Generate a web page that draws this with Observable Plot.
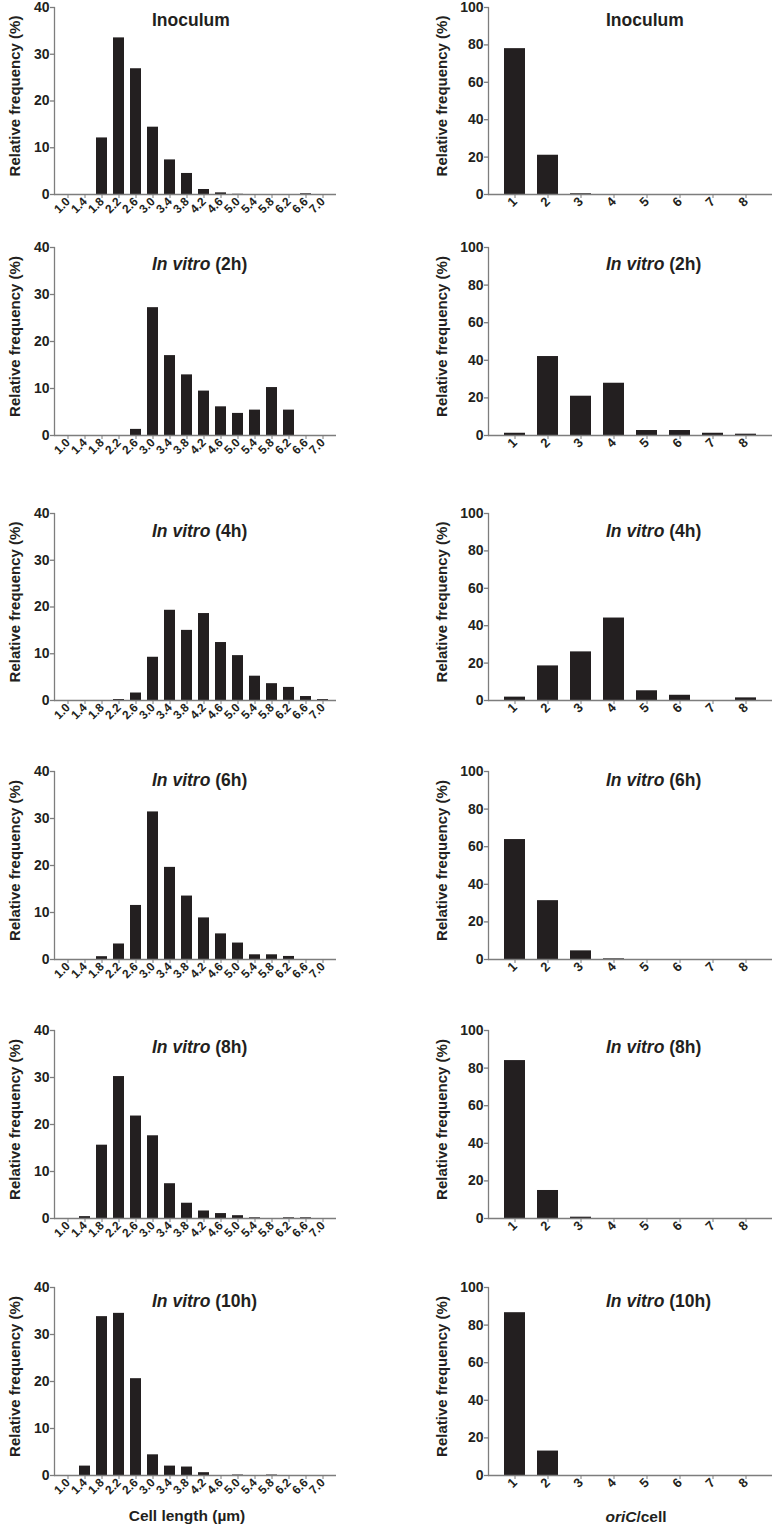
<!DOCTYPE html>
<html><head><meta charset="utf-8">
<script src="https://cdn.jsdelivr.net/npm/d3@7"></script>
<script src="https://cdn.jsdelivr.net/npm/@observablehq/plot@0.6"></script>
<style>
body{margin:0;background:#fff;font-family:"Liberation Sans",Arial,sans-serif;}
#wrap{position:relative;width:772px;height:1526px;overflow:hidden;}
.panel{position:absolute;}
.title{position:absolute;font-weight:bold;font-size:17.5px;color:#231f20;white-space:nowrap;line-height:1;}
.xlab{position:absolute;font-weight:bold;font-size:15.5px;color:#231f20;white-space:nowrap;line-height:1;transform:translateX(-50%);}
svg.panel g[aria-label="y-axis tick label"]{font-size:14px;font-weight:bold;}
svg.lenpanel g[aria-label="x-axis tick label"]{font-size:12px;font-weight:bold;}
svg.oripanel g[aria-label="x-axis tick label"]{font-size:13px;font-weight:bold;}
svg.panel g[aria-label="text"]{font-size:15px;font-weight:bold;}
</style></head><body><div id="wrap"></div><script>
// ---- data ----
const lengthBins = ["1.0","1.4","1.8","2.2","2.6","3.0","3.4","3.8","4.2","4.6","5.0","5.4","5.8","6.2","6.6","7.0"];
const oriBins = ["1","2","3","4","5","6","7","8"];
const titleMain = ["Inoculum","In vitro","In vitro","In vitro","In vitro","In vitro"];
const titleSuffix = [""," (2h)"," (4h)"," (6h)"," (8h)"," (10h)"];
const yLabel = "Relative frequency (%)";
const xLabelLength = "Cell length (µm)";
const lengthTicks = [0, 10, 20, 30, 40];
const oriTicks = [0, 20, 40, 60, 80, 100];

const lenInoculum = [0, 0, 12.1, 33.5, 26.9, 14.4, 7.4, 4.5, 1.07, 0.35, 0.05, 0, 0, 0, 0.15, 0];
const len2h       = [0, 0, 0, 0, 1.3, 27.2, 17.0, 12.9, 9.45, 6.1, 4.7, 5.4, 10.2, 5.4, 0, 0];
const len4h       = [0, 0, 0, 0.2, 1.6, 9.25, 19.3, 15.0, 18.6, 12.4, 9.6, 5.2, 3.6, 2.8, 0.85, 0.2];
const len6h       = [0, 0, 0.6, 3.3, 11.5, 31.4, 19.6, 13.5, 8.85, 5.45, 3.5, 1.0, 1.0, 0.65, 0, 0];
const len8h       = [0, 0.4, 15.6, 30.2, 21.8, 17.6, 7.4, 3.25, 1.6, 1.05, 0.6, 0.15, 0, 0.15, 0.15, 0];
const len10h      = [0, 2.0, 33.8, 34.5, 20.6, 4.4, 2.0, 1.8, 0.6, 0, 0.1, 0, 0.1, 0, 0, 0];

const oriInoculum = [78.0, 21.0, 0.4, 0, 0, 0, 0, 0];
const ori2h       = [1.2, 42.0, 20.9, 27.8, 2.65, 2.65, 1.2, 0.7];
const ori4h       = [1.8, 18.5, 26.0, 44.1, 5.2, 2.8, 0, 1.4];
const ori6h       = [63.8, 31.3, 4.6, 0.35, 0, 0, 0, 0];
const ori8h       = [84.0, 14.9, 0.7, 0, 0, 0, 0, 0];
const ori10h      = [86.6, 13.0, 0, 0, 0, 0, 0, 0];

const lengthSeries = [lenInoculum, len2h, len4h, len6h, len8h, len10h];
const oriSeries = [oriInoculum, ori2h, ori4h, ori6h, ori8h, ori10h];

// ---- layout ----
const rowTop = [7, 247, 513, 771, 1030, 1287];
const rowZero = [194, 435, 700, 959, 1218, 1475];
const titleBase = [27, 271, 538, 787, 1054, 1308];
const INK = "#231f20", AXIS = "#7d7d7d", FONT = "'Liberation Sans', Arial, sans-serif";

function panel(cats, values, yMax, yTicks, width, marginLeft, marginRight, plotH, tickFont, labelDx) {
  const data = cats.map((c, i) => ({c, v: values[i]}));
  return Plot.plot({
    width, height: 10 + plotH + 40,
    marginTop: 10, marginBottom: 40, marginLeft, marginRight,
    style: {background: "transparent", fontFamily: FONT, overflow: "visible"},
    x: {domain: cats, paddingInner: 0.36, paddingOuter: 0.38, align: 0.5},
    y: {domain: [0, yMax]},
    marks: [
      Plot.barY(data, {x: "c", y: "v", fill: INK}),
      Plot.frame({anchor: "left", stroke: AXIS, strokeWidth: 1.3}),
      Plot.ruleY([0], {stroke: AXIS, strokeWidth: 1.3}),
      Plot.axisY({ticks: yTicks, tickSize: 4, tickPadding: 1, fontSize: 14, fontWeight: "bold",
        label: null, stroke: AXIS, fill: INK, strokeWidth: 1.3}),
      Plot.axisX({tickSize: 4, tickPadding: 1, tickRotate: -45, fontSize: tickFont, fontWeight: "bold",
        label: null, stroke: AXIS, fill: INK}),
      Plot.text([yLabel], {frameAnchor: "left", textAnchor: "middle", lineAnchor: "middle",
        rotate: -90, dx: labelDx, dy: -5, fontSize: 15, fontWeight: "bold", fill: INK})
    ]
  });
}

const wrap = document.getElementById("wrap");
for (let r = 0; r < 6; r++) {
  const plotH = rowZero[r] - rowTop[r];
  const left = panel(lengthBins, lengthSeries[r], 40, lengthTicks, 340, 54, 4, plotH, 12, -39);
  left.classList.add("panel", "lenpanel");
  left.style.left = "0px"; left.style.top = (rowTop[r] - 10) + "px";
  wrap.appendChild(left);
  const right = panel(oriBins, oriSeries[r], 100, oriTicks, 352, 68, 0, plotH, 13, -46);
  right.classList.add("panel", "oripanel");
  right.style.left = "420px"; right.style.top = (rowTop[r] - 10) + "px";
  wrap.appendChild(right);

  for (const x of [152, 606]) {
    const t = document.createElement("div");
    t.className = "title";
    if (titleSuffix[r]) {
      const i = document.createElement("i"); i.textContent = titleMain[r];
      t.appendChild(i); t.appendChild(document.createTextNode(titleSuffix[r]));
    } else t.textContent = titleMain[r];
    t.style.left = x + "px"; t.style.top = (titleBase[r] - 14.8) + "px";
    wrap.appendChild(t);
  }
}
const xl1 = document.createElement("div");
xl1.className = "xlab"; xl1.textContent = xLabelLength;
xl1.style.left = "187px"; xl1.style.top = (1521 - 13.1) + "px";
wrap.appendChild(xl1);
const xl2 = document.createElement("div");
xl2.className = "xlab";
const oi = document.createElement("i"); oi.textContent = "oriC";
xl2.appendChild(oi); xl2.appendChild(document.createTextNode("/cell"));
xl2.style.left = "636px"; xl2.style.top = (1522 - 13.1) + "px";
wrap.appendChild(xl2);
</script></body></html>
